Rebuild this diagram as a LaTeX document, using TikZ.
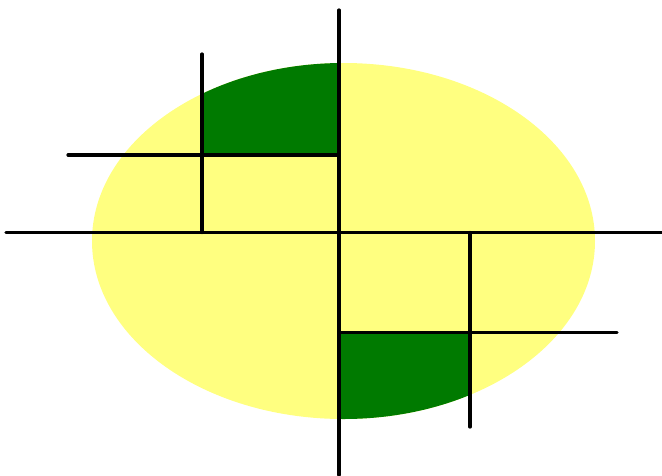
\documentclass[tikz,border=0pt]{standalone}
\definecolor{paleyellow}{RGB}{255,255,128}
\definecolor{darkgreen}{RGB}{0,122,0}
\tikzset{blackline/.style={line width=3.2pt, line cap=round, black}}
\begin{document}
\begin{tikzpicture}[x=1pt,y=-1pt]
\useasboundingbox (0,0) rectangle (662,475);
% ellipse
\fill[paleyellow] (343.5,241) ellipse [x radius=251.5, y radius=178];
\begin{scope}
\clip (343.5,241) ellipse [x radius=251.5, y radius=178];
\fill[darkgreen] (202,0) rectangle (339,155);
\fill[darkgreen] (339,332) rectangle (470,475);
\end{scope}
% lines
\coordinate (hl) at (6,232.5);
\coordinate (hr) at (662,232.5);
\coordinate (vt) at (339,10);
\coordinate (vb) at (339,475);
\draw[blackline] (hl) -- (hr);
\draw[blackline] (vt) -- (vb);
\coordinate (a1) at (202,54);
\coordinate (a2) at (202,232.5);
\draw[blackline] (a1) -- (a2);
\coordinate (b1) at (68,155);
\coordinate (b2) at (339,155);
\draw[blackline] (b1) -- (b2);
\coordinate (c1) at (470,232.5);
\coordinate (c2) at (470,427);
\draw[blackline] (c1) -- (c2);
\coordinate (d1) at (339,332.5);
\coordinate (d2) at (617,332.5);
\draw[blackline] (d1) -- (d2);
\end{tikzpicture}
\end{document}
